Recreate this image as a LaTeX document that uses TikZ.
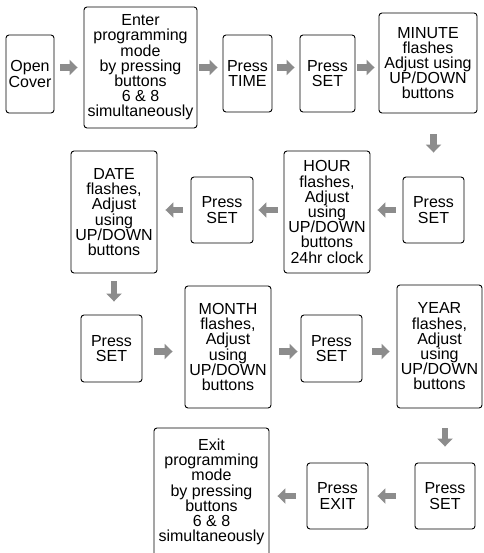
\documentclass[tikz,border=0pt]{standalone}
\usepackage{fontspec}
\setmainfont{Liberation Sans}
\usetikzlibrary{arrows.meta}
\definecolor{flowgray}{RGB}{140,140,140}

\begin{document}
\begin{tikzpicture}[x=1pt,y=-1pt,
  block/.style={draw,rounded corners=3pt,line width=0.9pt,align=center,inner sep=2pt,
    font=\fontsize{16}{15.2}\selectfont},
  flow/.style={draw=flowgray,line width=6.5pt,-{Triangle[width=15pt,length=8pt]}}]
\useasboundingbox (0,0) rectangle (483,553);
\path
(30,74) node [block,minimum width=48,minimum height=78] (cover) {Open\\Cover}
(140.5,67.5) node [block,minimum width=113,minimum height=121] (enter) {Enter\\programming\\mode\\by pressing\\buttons\\6 \& 8\\simultaneously}
(247.5,73.5) node [block,minimum width=49,minimum height=77] (time) {Press\\TIME}
(327.5,73.5) node [block,minimum width=55,minimum height=77] (set1) {Press\\SET}
(428,63) node [block,minimum width=98,minimum height=100] (minute) {MINUTE\\flashes\\Adjust using\\UP/DOWN\\buttons}
;
\path
(433.5,210) node [block,minimum width=61,minimum height=66] (set2) {Press\\SET}
(327,212) node [block,minimum width=86,minimum height=122] (hour) {HOUR\\flashes,\\Adjust\\using\\UP/DOWN\\buttons\\24hr clock}
(222,210) node [block,minimum width=62,minimum height=66] (set3) {Press\\SET}
(114,212) node [block,minimum width=86,minimum height=122] (date) {DATE\\flashes,\\Adjust\\using\\UP/DOWN\\buttons}
;
\path
(111.5,348.5) node [block,minimum width=61,minimum height=67] (set4) {Press\\SET}
(228,347) node [block,minimum width=86,minimum height=122] (month) {MONTH\\flashes,\\Adjust\\using\\UP/DOWN\\buttons}
(331.5,348.5) node [block,minimum width=61,minimum height=67] (set5) {Press\\SET}
(439.5,346.5) node [block,minimum width=85,minimum height=123] (year) {YEAR\\flashes,\\Adjust\\using\\UP/DOWN\\buttons}
;
\path
(445,496) node [block,minimum width=60,minimum height=66] (set6) {Press\\SET}
(337.5,496) node [block,minimum width=61,minimum height=66] (exitbtn) {Press\\EXIT}
(211.5,492) node [block,minimum width=115,minimum height=128] (exitmode) {Exit\\programming\\mode\\by pressing\\buttons\\6 \& 8\\simultaneously}
;

% top row, left to right
\draw[flow,shorten <=6pt,shorten >=6pt] (cover.east |- enter.west) -- (enter.west);
\draw[flow,shorten <=2pt,shorten >=5pt] (enter.east) -- (enter.east -| time.west);
\draw[flow,shorten <=5pt,shorten >=5pt] (time.east |- enter.east) -- (enter.east -| set1.west);
\draw[flow,shorten <=2pt,shorten >=4pt] (set1.east |- enter.east) -- (enter.east -| minute.west);
\draw[flow,shorten <=21pt,shorten >=24pt] (set2.north |- minute.south) -- (set2.north);

% second row, right to left
\draw[flow,shorten <=7pt,shorten >=7pt] (set2.west) -- (set2.west -| hour.east);
\draw[flow,shorten <=6pt,shorten >=5pt] (hour.west |- set3.east) -- (set3.east);
\draw[flow,shorten <=8pt,shorten >=8pt] (set3.west) -- (set3.west -| date.east);
\draw[flow,shorten <=8pt,shorten >=13pt] (date.south) -- (date.south |- set4.north);

% third row, left to right
\draw[flow,shorten <=12pt,shorten >=12pt] ([yshift=-3pt]set4.east) -- ([yshift=-3pt]set4.east -| month.west);
\draw[flow,shorten <=8pt,shorten >=3pt] ([yshift=-3pt]month.east |- set4.east) -- ([yshift=-3pt]set5.west);
\draw[flow,shorten <=10pt,shorten >=7pt] ([yshift=-3pt]set5.east) -- ([yshift=-3pt]set5.east -| year.west);
\draw[flow,shorten <=20pt,shorten >=16pt] (set6.north |- year.south) -- (set6.north);

% bottom row, right to left
\draw[flow,shorten <=19pt,shorten >=9pt] (set6.west) -- (exitbtn.east);
\draw[flow,shorten <=11pt,shorten >=8pt] (exitbtn.west) -- (exitbtn.west -| exitmode.east);
\end{tikzpicture}
\end{document}
